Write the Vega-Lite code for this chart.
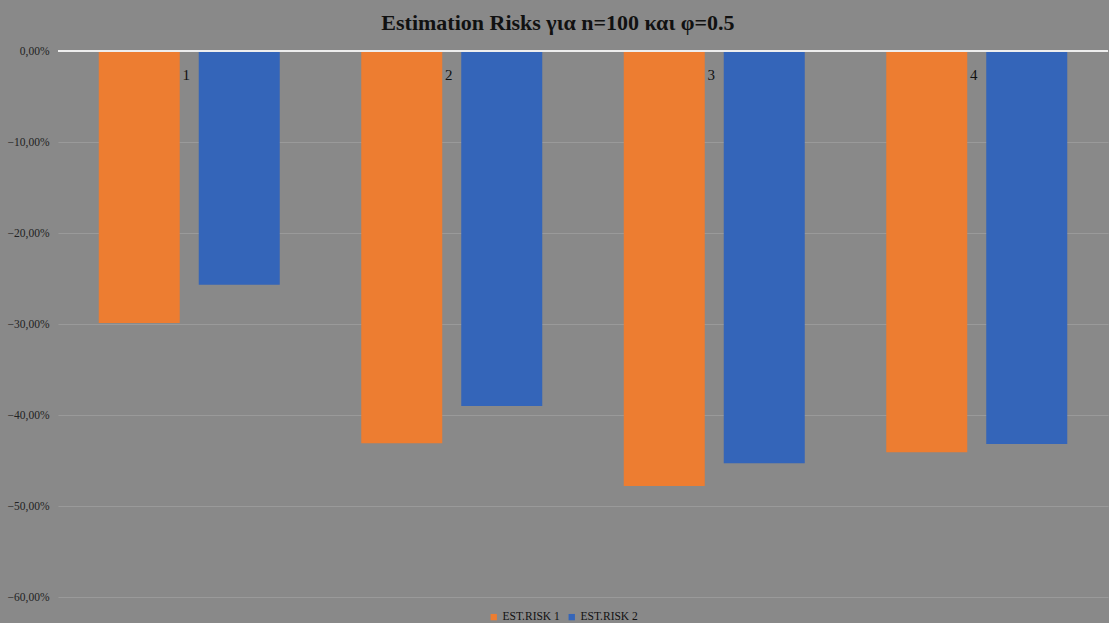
{
  "$schema": "https://vega.github.io/schema/vega-lite/v6.json",
  "width": 1050,
  "height": 546,
  "padding": {"left": 7, "top": 12, "right": 1, "bottom": 0},
  "background": "#898989",
  "config": {
    "locale": {"number": {"decimal": ",", "thousands": ".", "grouping": [3], "currency": ["", " €"]}},
    "view": {"stroke": null},
    "font": "Liberation Serif"
  },
  "title": {
    "text": "Estimation Risks για n=100 και φ=0.5",
    "font": "Liberation Serif",
    "fontSize": 22,
    "fontWeight": "bold",
    "color": "#111111",
    "anchor": "middle",
    "frame": "bounds",
    "offset": 10
  },
  "data": {
    "values": [
      {"category": "1", "series": "EST.RISK 1", "value": -0.299},
      {"category": "1", "series": "EST.RISK 2", "value": -0.257},
      {"category": "2", "series": "EST.RISK 1", "value": -0.431},
      {"category": "2", "series": "EST.RISK 2", "value": -0.390},
      {"category": "3", "series": "EST.RISK 1", "value": -0.478},
      {"category": "3", "series": "EST.RISK 2", "value": -0.453},
      {"category": "4", "series": "EST.RISK 1", "value": -0.441},
      {"category": "4", "series": "EST.RISK 2", "value": -0.432}
    ]
  },
  "layer": [
    {
      "mark": {"type": "bar"},
      "encoding": {
        "x": {"field": "category", "type": "nominal", "scale": {"paddingInner": 0, "paddingOuter": 0}, "axis": null},
        "xOffset": {"field": "series", "type": "nominal", "scale": {"paddingInner": 0.19, "paddingOuter": 0.4075}},
        "y": {
          "field": "value",
          "type": "quantitative",
          "scale": {"domain": [-0.6, 0], "nice": false},
          "axis": {
            "title": null,
            "format": ".2%",
            "values": [-0.6, -0.5, -0.4, -0.3, -0.2, -0.1, 0],
            "labelFont": "Liberation Serif",
            "labelFontSize": 11.5,
            "labelColor": "#222222",
            "labelPadding": 9,
            "grid": true,
            "gridColor": "#9a9a9a",
            "gridWidth": 1,
            "domain": false,
            "ticks": false
          }
        },
        "color": {
          "field": "series",
          "type": "nominal",
          "scale": {"domain": ["EST.RISK 1", "EST.RISK 2"], "range": ["#ED7D31", "#3465B9"]},
          "legend": {
            "title": null,
            "orient": "none",
            "legendX": 430,
            "legendY": 560,
            "direction": "horizontal",
            "symbolType": "square",
            "symbolSize": 40,
            "labelFont": "Liberation Serif",
            "labelFontSize": 11.5,
            "labelColor": "#111111",
            "labelOffset": 3,
            "columnPadding": 6
          }
        }
      }
    },
    {
      "mark": {"type": "rule", "color": "#eeeeee", "strokeWidth": 1.5},
      "encoding": {"y": {"datum": 0}}
    },
    {
      "transform": [{"filter": "datum.series === 'EST.RISK 1'"}],
      "mark": {"type": "text", "dy": 24, "dx": -3, "font": "Liberation Serif", "fontSize": 15, "color": "#111111", "baseline": "middle"},
      "encoding": {
        "x": {"field": "category", "type": "nominal"},
        "y": {"datum": 0},
        "text": {"field": "category"}
      }
    }
  ]
}
